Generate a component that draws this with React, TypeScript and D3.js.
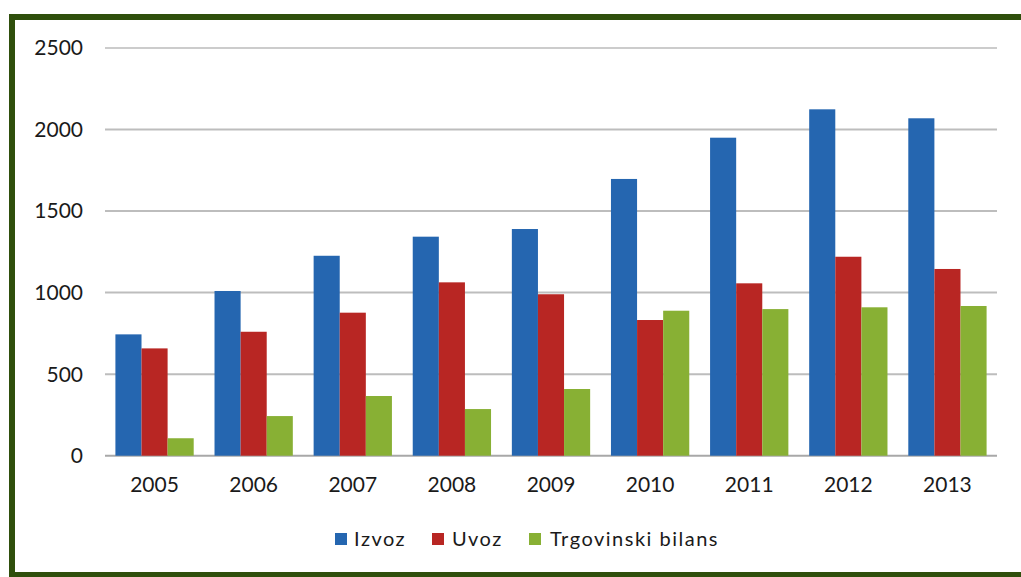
import React from "react";
import * as d3 from "d3";

const years = ["2005", "2006", "2007", "2008", "2009", "2010", "2011", "2012", "2013"];
const izvoz = [744, 1010, 1226, 1343, 1390, 1697, 1950, 2124, 2069];
const uvoz = [658, 760, 877, 1063, 990, 832, 1057, 1220, 1145];
const bilans = [107, 243, 366, 286, 409, 889, 899, 910, 918];
const seriesNames = ["Izvoz", "Uvoz", "Trgovinski bilans"];
const seriesColors = ["#2566b0", "#b82623", "#88b034"];
const yTicks = [0, 500, 1000, 1500, 2000, 2500];

const W = 1021;
const H = 577;
const FONT = "Lato, 'Open Sans', sans-serif";

export default function App() {
  const left = 105;
  const right = 997;
  const top = 48;
  const bottom = 455.7;
  const x = d3.scaleBand<string>().domain(years).range([left, right]).paddingInner(0.21).paddingOuter(0.105);
  const y = d3.scaleLinear().domain([0, 2500]).range([bottom, top]);
  const series = [izvoz, uvoz, bilans];
  const xs = d3.scaleBand<number>().domain([0, 1, 2]).range([0, x.bandwidth()]);

  const legendItems = [
    { sq: 335, tx: 354 },
    { sq: 432, tx: 452 },
    { sq: 529, tx: 550 },
  ];

  return (
    <svg width={W} height={H} style={{ position: "absolute", left: 0, top: 0, background: "#fff" }}>
      <rect x={0} y={0} width={W} height={H} fill="#fff" />
      {yTicks.map((t) => (
        <g key={t}>
          <line x1={left} x2={right} y1={y(t)} y2={y(t)} stroke={t === 0 ? "#a8a8a8" : t === 2500 ? "#cccccc" : "#bdbdbd"} strokeWidth={2} />
          <text x={83} y={y(t)} dy="0.35em" textAnchor="end" fontFamily={FONT} fontSize={21} fill="#1a1a1a">
            {t}
          </text>
        </g>
      ))}
      {years.map((yr, i) => (
        <g key={yr} transform={`translate(${x(yr)},0)`}>
          {series.map((s, k) => (
            <rect
              key={k}
              x={xs(k)}
              y={y(s[i])}
              width={xs.bandwidth()}
              height={bottom - y(s[i])}
              fill={seriesColors[k]}
            />
          ))}
          <text x={x.bandwidth() / 2} y={485} dy="0.35em" textAnchor="middle" fontFamily={FONT} fontSize={21} fill="#1a1a1a">
            {yr}
          </text>
        </g>
      ))}
      {seriesNames.map((n, k) => (
        <g key={n}>
          <rect x={legendItems[k].sq} y={533} width={12} height={12} fill={seriesColors[k]} />
          <text x={legendItems[k].tx} y={539} dy="0.35em" fontFamily={FONT} fontSize={20} letterSpacing={1.5} fill="#1a1a1a">
            {n}
          </text>
        </g>
      ))}
      <rect x={12} y={17} width={1030} height={558} fill="none" stroke="#2f4f0c" strokeWidth={6} />
    </svg>
  );
}
